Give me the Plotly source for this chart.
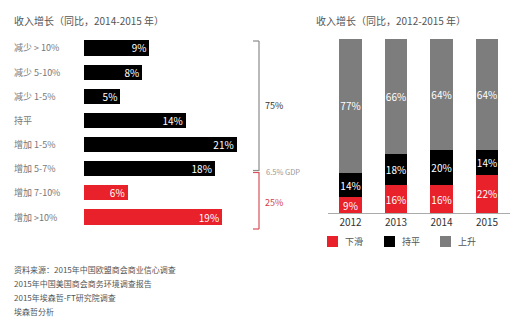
import plotly.graph_objects as go

W, H = 516, 324
def X(px): return px / W
def Y(py): return 1 - py / H

# Left chart data
left_title = "收入增长（同比，2014-2015 年）"
left_cats = ["减少 > 10%", "减少 5-10%", "减少 1-5%", "持平", "增加 1-5%", "增加 5-7%", "增加 7-10%", "增加 >10%"]
left_vals = [9, 8, 5, 14, 21, 18, 6, 19]
left_is_red = [False, False, False, False, False, False, True, True]

# Right chart data
right_title = "收入增长（同比，2012-2015 年）"
years = ["2012", "2013", "2014", "2015"]
down_vals = [9, 16, 16, 22]
flat_vals = [14, 18, 20, 14]
up_vals = [77, 66, 64, 64]
series_names = ["下滑", "持平", "上升"]

sources = ["资料来源：2015年中国欧盟商会商业信心调查",
           "2015年中国美国商会商务环境调查报告",
           "2015年埃森哲-FT研究院调查",
           "埃森哲分析"]

RED = "#e8212a"
BLACK = "#000000"
GRAY = "#7d7d7d"
FONT = "Noto Sans CJK SC"
series_colors = [RED, BLACK, GRAY]

fig = go.Figure()

fig.add_trace(go.Bar(
    x=left_vals, y=left_cats, orientation="h",
    marker=dict(color=[RED if r else BLACK for r in left_is_red], line=dict(width=0)),
    width=0.63,
    text=[f"{v}%" for v in left_vals], textposition="inside", insidetextanchor="end",
    textangle=0, constraintext="none",
    textfont=dict(color="white", size=10, family=FONT),
    xaxis="x", yaxis="y", showlegend=False, hoverinfo="skip"))

for name, vals, col in zip(series_names, [down_vals, flat_vals, up_vals], series_colors):
    fig.add_trace(go.Bar(
        x=years, y=vals, name=name,
        marker=dict(color=col, line=dict(width=0)), width=0.5,
        text=[f"{v}%" for v in vals], textposition="inside", insidetextanchor="middle",
        textangle=0, constraintext="none",
        textfont=dict(color="white", size=10, family=FONT),
        xaxis="x2", yaxis="y2", showlegend=False, hoverinfo="skip"))

px_per = 7.27
fig.update_layout(
    width=W, height=H, margin=dict(l=0, r=0, t=0, b=0, autoexpand=False),
    paper_bgcolor="white", plot_bgcolor="white",
    font=dict(family=FONT, color="#444"),
    barmode="stack", showlegend=False,
    xaxis=dict(domain=[X(84), X(84 + 21.5 * px_per)], range=[0, 21.5], visible=False),
    yaxis=dict(domain=[Y(229.1), Y(35.9)], type="category", categoryorder="array",
               categoryarray=left_cats, range=[7.5, -0.5], visible=False),
    xaxis2=dict(domain=[X(327.75), X(509.75)], type="category", range=[-0.5, 3.5],
                showline=True, linecolor="#aaaaaa", linewidth=1, ticks="", showgrid=False,
                tickfont=dict(size=10, color="#333"), anchor="y2", zeroline=False),
    yaxis2=dict(domain=[Y(213), Y(39)], range=[0, 100], visible=False, anchor="x2"),
)

ann = []
ann.append(dict(text=left_title, x=X(12), y=Y(20), xref="paper", yref="paper",
                xanchor="left", yanchor="middle", showarrow=False,
                font=dict(size=10, color="#555")))
ann.append(dict(text=right_title, x=X(391), y=Y(20), xref="paper", yref="paper",
                xanchor="center", yanchor="middle", showarrow=False,
                font=dict(size=10, color="#555")))
for c in left_cats:
    ann.append(dict(text=c, x=X(12), y=c, xref="paper", yref="y",
                    xanchor="left", yanchor="middle", showarrow=False,
                    font=dict(size=9, color="#777")))
ann.append(dict(text="75%", x=X(263), y=Y(105), xref="paper", yref="paper",
                xanchor="left", yanchor="middle", showarrow=False,
                font=dict(size=9, color="#333")))
ann.append(dict(text="6.5% GDP", x=X(264), y=Y(171), xref="paper", yref="paper",
                xanchor="left", yanchor="middle", showarrow=False,
                font=dict(size=7.5, color="#999")))
ann.append(dict(text="25%", x=X(263), y=Y(202), xref="paper", yref="paper",
                xanchor="left", yanchor="middle", showarrow=False,
                font=dict(size=9, color="#d0404c")))
for i, s in enumerate(sources):
    ann.append(dict(text=s, x=X(12), y=Y(269 + 14 * i), xref="paper", yref="paper",
                    xanchor="left", yanchor="middle", showarrow=False,
                    font=dict(size=8, color="#555")))

# manual legend
shapes = []
leg_x0 = [327, 384, 440]
for lx, name, col in zip(leg_x0, series_names, series_colors):
    shapes.append(dict(type="rect", x0=X(lx), x1=X(lx + 11), y0=Y(236), y1=Y(247),
                       xref="paper", yref="paper", fillcolor=col, line=dict(width=0)))
    ann.append(dict(text=name, x=X(lx + 16), y=Y(241.5), xref="paper", yref="paper",
                    xanchor="left", yanchor="middle", showarrow=False,
                    font=dict(size=9, color="#555")))
fig.update_layout(annotations=ann)

BR_GRAY = "#8a8a8a"
BR_RED = "#d8505a"
shapes += [
    dict(type="line", x0=X(259), x1=X(259), y0=Y(41), y1=Y(171), xref="paper", yref="paper", line=dict(color=BR_GRAY, width=1.2)),
    dict(type="line", x0=X(253), x1=X(259), y0=Y(41), y1=Y(41), xref="paper", yref="paper", line=dict(color=BR_GRAY, width=1.2)),
    dict(type="line", x0=X(253), x1=X(259), y0=Y(170.5), y1=Y(170.5), xref="paper", yref="paper", line=dict(color=BR_GRAY, width=1.2)),
    dict(type="line", x0=X(259), x1=X(259), y0=Y(172), y1=Y(229), xref="paper", yref="paper", line=dict(color=BR_RED, width=1.2)),
    dict(type="line", x0=X(253), x1=X(259), y0=Y(172.5), y1=Y(172.5), xref="paper", yref="paper", line=dict(color=BR_RED, width=1.2)),
    dict(type="line", x0=X(253), x1=X(259), y0=Y(229), y1=Y(229), xref="paper", yref="paper", line=dict(color=BR_RED, width=1.2)),
]
fig.update_layout(shapes=shapes)

fig.write_html("out.html")
